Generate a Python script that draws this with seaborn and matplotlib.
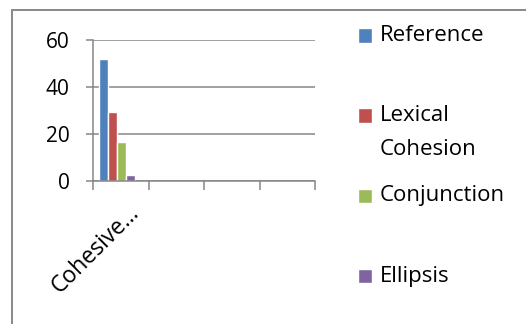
import matplotlib
matplotlib.use("Agg")
import matplotlib.pyplot as plt
import matplotlib.transforms as mtransforms
from matplotlib.patches import Rectangle
import pandas as pd
import seaborn as sns

# Data
categories = ["Cohesive…"]
series = ["Reference", "Lexical Cohesion", "Conjunction", "Ellipsis"]
values = [51.7, 29.3, 16.7, 2.7]
legend_labels = ["Reference", "Lexical\nCohesion", "Conjunction", "Ellipsis"]
colors = ["#4F81BD", "#C0504D", "#9BBB59", "#8064A2"]
y_ticks = [0, 20, 40, 60]
n_slots = 4

df = pd.DataFrame({
    "category": categories * len(series),
    "series": series,
    "value": values,
})

sns.set_theme(style="white")
plt.rcParams["font.family"] = ["Open Sans", "DejaVu Sans"]
plt.rcParams["text.color"] = "black"
plt.rcParams["xtick.labelcolor"] = "black"
plt.rcParams["ytick.labelcolor"] = "black"

W, H, DPI = 526, 324, 100
fig = plt.figure(figsize=(W / DPI, H / DPI), dpi=DPI)
ax = fig.add_axes([93 / W, 1 - 181 / H, (315 - 93) / W, (181 - 39.5) / H])

sns.barplot(data=df, x="category", y="value", hue="series", hue_order=series,
            palette=colors, width=0.64, saturation=1, ax=ax, legend=False)

# the bar cluster sits slightly left of the slot centre
for p in ax.patches:
    p.set_x(p.get_x() - 0.07)

grey = "#868686"
ax.set_xlim(-0.5, n_slots - 0.5)
ax.set_ylim(0, 60)
ax.set_yticks(y_ticks)
ax.yaxis.grid(True, color=grey, lw=1.1)
ax.set_axisbelow(True)
ax.set_xlabel("")
ax.set_ylabel("")
for side in ("top", "right"):
    ax.spines[side].set_visible(False)
for side in ("left", "bottom"):
    ax.spines[side].set_color(grey)
    ax.spines[side].set_linewidth(1.1)

# boundary ticks between category slots, label at the slot centre
ax.set_xticks([i - 0.5 for i in range(n_slots + 1)])
ax.set_xticklabels([])
ax.set_xticks(range(len(categories)), minor=True)
ax.set_xticklabels(categories, minor=True, rotation=45, ha="right", va="top",
                   rotation_mode="anchor", fontsize=16.5, color="black")
ax.tick_params(axis="x", which="major", direction="out", length=6.5, width=1.1,
               color=grey, bottom=True)
ax.tick_params(axis="x", which="minor", length=0, pad=14.5, bottom=True,
               labelcolor="black")
ax.tick_params(axis="y", direction="out", length=5, width=1.1, color=grey,
               labelsize=15, pad=12, left=True, labelcolor="black")
shift = mtransforms.ScaledTranslation(6 / DPI, 0, fig.dpi_scale_trans)
for lbl in ax.get_xticklabels(minor=True):
    lbl.set_transform(lbl.get_transform() + shift)

# legend: every entry gets two lines so the slots are evenly spaced
leg_fs = 16
handles = ax.patches[:len(series)]
padded = [lbl if "\n" in lbl else lbl + "\n" for lbl in legend_labels]
leg = fig.legend(handles, padded, loc="upper left",
                 bbox_to_anchor=(358 / W, 1 - 25 / H), frameon=False,
                 fontsize=leg_fs, handlelength=0.63, handleheight=0.63,
                 handletextpad=0.36, borderpad=0, borderaxespad=0,
                 labelspacing=1.13, labelcolor="black")
for t in leg.texts:
    t.set_linespacing(1.82)

# line each swatch up with the first line of its label
fig.canvas.draw()
renderer = fig.canvas.get_renderer()
_, line_h, _ = renderer.get_text_width_height_descent(
    "Lp", leg.texts[0].get_fontproperties(), ismath=False)
for h, t in zip(leg.legend_handles, leg.texts):
    tb = t.get_window_extent(renderer)
    hb = h.get_window_extent(renderer)
    first_line_mid = tb.y1 - line_h / 2
    dy_px = first_line_mid - (hb.y0 + hb.y1) / 2
    h.set_y(h.get_y() + dy_px * 72 / DPI)

# outer chart frame
fig.add_artist(Rectangle((11.5 / W, -0.2), 2, 1.2 - 10 / H, transform=fig.transFigure,
                         fill=False, edgecolor="#898989", lw=1.4))

fig.savefig("out.png", dpi=DPI)
